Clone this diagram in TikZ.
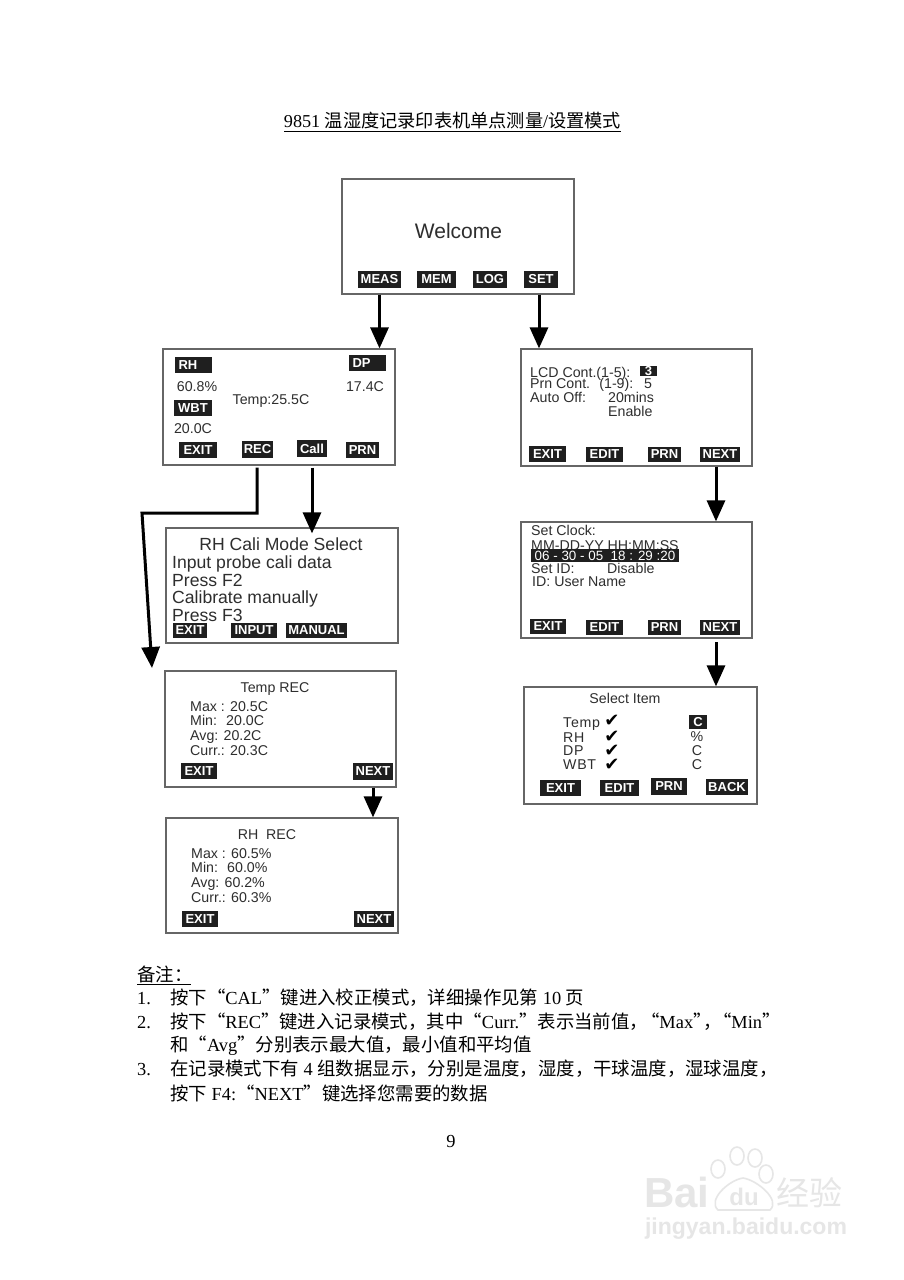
\documentclass[tikz,border=0pt]{standalone}
\usepackage{fontspec}
\setmainfont{Liberation Serif}
\newfontfamily\asf{Liberation Sans}
\newfontfamily\cjk{Noto Sans CJK SC}
\newfontfamily\dej{DejaVu Sans}
\usetikzlibrary{arrows.meta}
\definecolor{ink}{HTML}{2E2E2E}
\definecolor{frame}{HTML}{666666}
\definecolor{wmgrey}{HTML}{E6E6E6}
\newcommand\C[1]{{\cjk #1}}
\tikzset{
  screen/.style={draw=frame,line width=1.2pt,fill=white,inner sep=0pt},
  btn/.style={fill=black!88,text=white,inner sep=0pt,font=\asf\bfseries\fontsize{13}{13}\selectfont},
  scr/.style={inner sep=0pt,anchor=west,text=ink,text height=10pt,text depth=0pt,font=\asf\fontsize{14.2}{14}\selectfont},
  scrwide/.style={scr,font=\asf\fontsize{14.2}{14}\addfontfeature{LetterSpace=5}\selectfont},
  big/.style={scr,text height=12pt,font=\asf\fontsize{17.6}{18}\selectfont},
  doc/.style={inner sep=0pt,anchor=west,text=black,text height=12pt,text depth=0pt,font=\fontsize{18.4}{19}\selectfont},
  flow/.style={draw=black,line width=3pt,-{Triangle[length=21pt,width=18pt]}},
  wm/.style={inner sep=0pt,text=wmgrey,font=\asf\bfseries},
  paw/.style={draw=wmgrey,line width=1.6pt,fill=white},
  tick/.style={inner sep=0pt,text=black,font=\dej\fontsize{18}{18}\selectfont},
}
\newcommand\scrn[5]{\pgfmathsetlengthmacro\bw{#4-#2}\pgfmathsetlengthmacro\bh{#5-#3}%
  \node[screen,minimum width=\bw,minimum height=\bh] (#1) at ({(#2+#4)/2},{(#3+#5)/2}) {};}
\newcommand\btnn[6]{\pgfmathsetlengthmacro\bw{#4-#2}\pgfmathsetlengthmacro\bh{#5-#3}%
  \node[btn,minimum width=\bw,minimum height=\bh] (#1) at ({(#2+#4)/2},{(#3+#5)/2}) {#6};}
\begin{document}
\begin{tikzpicture}[x=1pt,y=-1pt]
\useasboundingbox (0,0) rectangle (904,1280);
\fill[white] (0,0) rectangle (904,1280);

% title
\node[doc,anchor=center,font=\fontsize{18.2}{19}\selectfont] (title) at (452.5,121) {9851 \C{温湿度记录印表机单点测量}/\C{设置模式}};
\coordinate (tl) at (284,131); \coordinate (tr) at (621,131);
\draw[line width=.9pt] (tl) -- (tr);

% welcome
\scrn{welcome}{342}{179}{574}{294}
\node[scr,anchor=center,text height=15pt,font=\asf\fontsize{21}{21}\selectfont] (welcometxt) at (458.5,231) {Welcome};
\btnn{meas}{358}{271}{401}{288}{MEAS}
\btnn{mem}{417}{271}{456}{288}{MEM}
\btnn{logb}{473}{271}{507}{288}{LOG}
\btnn{setb}{524}{271}{558}{288}{SET}

% RH main
\scrn{main}{163}{349}{395}{465}
\btnn{rh}{175}{357}{212}{373}{\makebox[30pt][l]{RH}}
\btnn{dp}{349}{355}{386}{371}{\makebox[30pt][l]{DP}}
\node[scr,anchor=center] (rhv) at (197,386) {60.8\%};
\node[scr,anchor=center] (dpv) at (365,386) {17.4C};
\btnn{wbt}{174}{400}{212}{416}{WBT}
\node[scr,anchor=center] (tempv) at (271,399) {Temp:25.5C};
\node[scr,anchor=center] (wbtv) at (193,428) {20.0C};
\btnn{mexit}{179}{442}{217}{458}{EXIT}
\btnn{mrec}{242}{441}{273}{458}{REC}
\btnn{mcal}{297}{440}{327}{457}{Call}
\btnn{mprn}{346}{442}{379}{458}{PRN}

% cali
\scrn{cali}{166}{528}{398}{643}
\node[big,anchor=center] (c0) at (281,544) {RH Cali Mode Select};
\node[big] (c1) at (172,562) {Input probe cali data};
\node[big] (c2) at (172,580) {Press F2};
\node[big] (c3) at (172,597) {Calibrate manually};
\node[big] (c4) at (172,615) {Press F3};
\btnn{cexit}{173}{623}{207}{638}{EXIT}
\btnn{cinput}{231}{623}{277}{638}{INPUT}
\btnn{cman}{286}{623}{347}{638}{MANUAL}

% temp rec
\scrn{trec}{165}{671}{396}{787}
\node[scr,anchor=center] (t0) at (275,687) {Temp REC};
\node[scr] (t1) at (190,706) {Max : 20.5C};
\node[scr] (t2) at (190,720) {Min: \ 20.0C};
\node[scr] (t3) at (190,735) {Avg: 20.2C};
\node[scr] (t4) at (190,750) {Curr.: 20.3C};
\btnn{texit}{181}{763}{217}{779}{EXIT}
\btnn{tnext}{353}{763}{393}{780}{NEXT}

% rh rec
\scrn{hrec}{166}{818}{398}{933}
\node[scr,anchor=center] (h0) at (267,834) {RH \ REC};
\node[scr] (h1) at (191,853) {Max : 60.5\%};
\node[scr] (h2) at (191,867) {Min: \ 60.0\%};
\node[scr] (h3) at (191,882) {Avg: 60.2\%};
\node[scr] (h4) at (191,897) {Curr.: 60.3\%};
\btnn{hexit}{182}{911}{218}{927}{EXIT}
\btnn{hnext}{354}{911}{394}{927}{NEXT}

% lcd
\scrn{lcd}{521}{349}{752}{466}
\node[scr] (l1) at (530,372) {LCD Cont.(1-5):};
\btnn{lthree}{640}{366}{657}{376}{3}
\node[scr] (l2) at (530,383) {Prn Cont. \ (1-9):};
\node[scr,anchor=center] (l2v) at (648,383) {5};
\node[scr] (l3) at (530,397) {Auto Off:};
\node[scr] (l3v) at (608,397) {20mins};
\node[scr] (l4) at (608,411) {Enable};
\btnn{lexit}{529}{446}{566}{462}{EXIT}
\btnn{ledit}{586}{447}{623}{462}{EDIT}
\btnn{lprn}{648}{447}{681}{462}{PRN}
\btnn{lnext}{700}{447}{740}{462}{NEXT}

% clock
\scrn{clock}{521}{522}{752}{638}
\node[scr] (k1) at (531,530) {Set Clock:};
\node[scr] (k2) at (531,545) {MM-DD-YY HH:MM:SS};
\btnn{kbar}{531}{549}{679}{562}{\fontsize{13.4}{13}\selectfont\mdseries 06 - 30 - 05 \ 18 : 29 :20}
\node[scr] (k3) at (531,568) {Set ID:};
\node[scr] (k3v) at (607,568) {Disable};
\node[scr] (k4) at (532,581) {ID: User Name};
\btnn{kexit}{530}{619}{566}{634}{EXIT}
\btnn{kedit}{586}{620}{623}{635}{EDIT}
\btnn{kprn}{648}{620}{681}{635}{PRN}
\btnn{knext}{700}{620}{740}{635}{NEXT}

% select
\scrn{sel}{524}{687}{757}{804}
\node[scr,anchor=center] (s0) at (625,698) {Select Item};
\node[scrwide] (s1) at (563,722) {Temp};
\node[scrwide] (s2) at (563,737) {RH};
\node[scrwide] (s3) at (563,750) {DP};
\node[scrwide] (s4) at (563,764) {WBT};
\node[tick] (m1) at (612,721) {✔};
\node[tick] (m2) at (612,737) {✔};
\node[tick] (m3) at (612,751) {✔};
\node[tick] (m4) at (612,765) {✔};
\btnn{sc}{689}{715}{707}{729}{C}
\node[scr,anchor=center] (su2) at (697,736) {\%};
\node[scr,anchor=center] (su3) at (697,750) {C};
\node[scr,anchor=center] (su4) at (697,764) {C};
\btnn{sexit}{540}{780}{581}{796}{EXIT}
\btnn{sedit}{600}{780}{639}{796}{EDIT}
\btnn{sprn}{651}{778}{687}{795}{PRN}
\btnn{sback}{706}{779}{748}{795}{BACK}

% connectors
\draw[flow] (meas.center |- welcome.south) -- (meas.center |- main.north);
\draw[flow] ([xshift=-2pt]setb.center |- welcome.south) -- ([xshift=-2pt]setb.center |- lcd.north);
\draw[flow] ([yshift=-2pt]mcal.center |- main.south) -- ([yshift=-6pt]mcal.center |- cali.north);
\coordinate (elbowA) at (257,513);
\coordinate (elbowB) at (142,513);
\coordinate (recEnd) at (152,668);
\draw[flow,line join=miter] ([yshift=-2pt]elbowA |- main.south) -- (elbowA) -- (elbowB) -- (recEnd);
\draw[flow] (tnext.center |- trec.south) -- (tnext.center |- hrec.north);
\draw[flow] ([xshift=-4pt]lnext.center |- lcd.south) -- ([xshift=-4pt]lnext.center |- clock.north);
\coordinate (clockOut) at (716,642);
\draw[flow] (clockOut) -- (clockOut |- sel.north);

% notes
\node[doc] (n0) at (137,975) {\C{备注：}};
\coordinate (nl) at (137,984); \coordinate (nr) at (191,984);
\draw[line width=.9pt] (nl) -- (nr);
\node[doc] (n1a) at (137,998) {1.};
\node[doc] (n1) at (170,998) {\C{按下“}CAL\C{”键进入校正模式，详细操作见第} 10 \C{页}};
\node[doc] (n2a) at (137,1022) {2.};
\node[doc] (n2) at (170,1022) {\C{按下“}REC\C{”键进入记录模式，其中“}Curr.\C{”表示当前值，}\hspace{-7pt}\C{“}Max\C{”}\hspace{-8pt}\C{，}\hspace{-9pt}\C{“}Min\C{”}};
\node[doc] (n2b) at (170,1045) {\C{和“}Avg\C{”分别表示最大值，最小值和平均值}};
\node[doc] (n3a) at (137,1069) {3.};
\node[doc] (n3) at (170,1069) {\C{在记录模式下有} 4 \C{组数据显示，分别是温度，湿度，干球温度，湿球温度，}};
\node[doc] (n3b) at (170,1094) {\C{按下} F4:\C{“}NEXT\C{”键选择您需要的数据}};
\node[doc,anchor=center] (pg) at (451,1141) {9};

% watermark
\node[wm,anchor=west,font=\asf\bfseries\fontsize{42}{42}\selectfont] (wb) at (644,1192) {Bai};
\draw[paw] (718,1169) ellipse (7 and 9);
\draw[paw] (737,1156) ellipse (7 and 9);
\draw[paw] (755,1158) ellipse (7 and 9);
\draw[paw] (766,1174) ellipse (7 and 9);
\draw[paw] (743,1178) .. controls (757,1180) and (781,1200) .. (770,1210) -- (718,1210) .. controls (707,1200) and (729,1180) .. (743,1178) -- cycle;
\node[wm,font=\asf\bfseries\fontsize{24}{24}\selectfont] (wd) at (744,1197) {du};
\node[wm,anchor=west,font=\cjk\fontsize{33}{33}\selectfont] (wj) at (776,1193) {经验};
\node[wm,font=\asf\bfseries\fontsize{23}{23}\selectfont] (wu) at (746,1229) {jingyan.baidu.com};
\end{tikzpicture}
\end{document}
